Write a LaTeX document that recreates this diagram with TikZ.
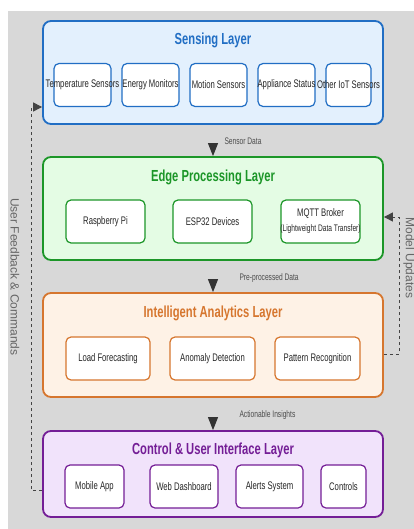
\documentclass[tikz,border=0pt]{standalone}
\usepackage{fontspec}
\setmainfont{Liberation Sans}[FakeStretch=0.7]
\newfontfamily\sidefont{Liberation Sans}
\usetikzlibrary{arrows.meta}

\definecolor{bgGray}{RGB}{216,216,216}
\definecolor{senseBlue}{RGB}{33,110,196}
\definecolor{senseFill}{RGB}{227,240,253}
\definecolor{edgeGreen}{RGB}{28,150,40}
\definecolor{edgeFill}{RGB}{228,252,228}
\definecolor{anaOrange}{RGB}{214,118,46}
\definecolor{anaFill}{RGB}{254,242,230}
\definecolor{ctrlPurple}{RGB}{116,30,150}
\definecolor{ctrlFill}{RGB}{241,227,251}
\definecolor{flowGray}{RGB}{68,68,68}

\tikzset{
  layerbox/.style 2 args={draw=#1, fill=#2, line width=1.8pt, rounded corners=8pt, minimum width=340pt},
  layertitle/.style={font=\fontsize{16}{18}\selectfont\bfseries, text=#1},
  unit/.style={draw=#1, fill=white, line width=1.2pt, rounded corners=5pt, minimum height=43pt,
    inner sep=0pt, font=\fontsize{11}{13}\selectfont, text=black!85},
  flow/.style={-{Triangle[length=13pt,width=10pt]}, black!80, line width=1pt, shorten <=20pt},
  flowlabel/.style={font=\fontsize{9.5}{11}\selectfont, text=black!70, anchor=west},
  backflow/.style={dash pattern=on 3pt off 3pt, flowGray, line width=1pt,
    -{Triangle[length=9pt,width=9pt]}},
  sidelabel/.style={font=\sidefont\fontsize{12}{14}\selectfont, text=black!60, rotate=-90},
}

\begin{document}
\begin{tikzpicture}[x=1pt, y=-1pt]
    \useasboundingbox (0,0) rectangle (414,529);
    \fill[bgGray] (8,11) rectangle (414,529);

    % sensing layer
    \node[layerbox={senseBlue}{senseFill}, minimum height=103pt] (sense) at (213,72.5) {};
    \node[layertitle=senseBlue] (senseT) at ([yshift=-20pt]sense.north) {Sensing Layer};
    \node[unit=senseBlue, minimum width=57pt] (temp) at (82.5,85) {\makebox[0pt]{Temperature Sensors}};
    \node[unit=senseBlue, minimum width=57pt] (energy) at (150.5,85) {\makebox[0pt]{Energy Monitors}};
    \node[unit=senseBlue, minimum width=57pt] (motion) at (218.5,85) {\makebox[0pt]{Motion Sensors}};
    \node[unit=senseBlue, minimum width=57pt] (appl) at (286.5,85) {\makebox[0pt]{Appliance Status}};
    \node[unit=senseBlue, minimum width=45pt] (other) at (348.5,85) {\makebox[0pt]{Other IoT Sensors}};

    % edge layer
    \node[layerbox={edgeGreen}{edgeFill}, minimum height=103pt] (edge) at (213,208.5) {};
    \node[layertitle=edgeGreen] (edgeT) at ([yshift=-21pt]edge.north) {Edge Processing Layer};
    \node[unit=edgeGreen, minimum width=79pt] (rpi) at (105.5,221.5) {Raspberry Pi};
    \node[unit=edgeGreen, minimum width=79pt] (esp) at (212.5,221.5) {ESP32 Devices};
    \node[unit=edgeGreen, minimum width=79pt] (mqtt) at (320.5,221.5) {\makebox[0pt]{\begin{tabular}{@{}c@{}}
        MQTT Broker\\[2pt]{\fontsize{9.5}{11}\selectfont(Lightweight Data Transfer)}\end{tabular}}};

    % analytics layer
    \node[layerbox={anaOrange}{anaFill}, minimum height=104pt] (ana) at (213,345) {};
    \node[layertitle=anaOrange] (anaT) at ([yshift=-21pt]ana.north) {Intelligent Analytics Layer};
    \node[unit=anaOrange, minimum width=84pt] (load) at (108,358.5) {Load Forecasting};
    \node[unit=anaOrange, minimum width=85pt] (anom) at (212.5,358.5) {Anomaly Detection};
    \node[unit=anaOrange, minimum width=85pt] (patt) at (317.5,358.5) {Pattern Recognition};

    % control layer
    \node[layerbox={ctrlPurple}{ctrlFill}, minimum height=86pt] (ctrl) at (213,474) {};
    \node[layertitle=ctrlPurple] (ctrlT) at ([yshift=-20pt]ctrl.north) {Control \& User Interface Layer};
    \node[unit=ctrlPurple, minimum width=59pt] (mobile) at (94.5,486.5) {Mobile App};
    \node[unit=ctrlPurple, minimum width=68pt] (web) at (184,486.5) {Web Dashboard};
    \node[unit=ctrlPurple, minimum width=67pt] (alerts) at (269.5,486.5) {Alerts System};
    \node[unit=ctrlPurple, minimum width=45pt] (controls) at (343.5,486.5) {Controls};

    % data flow downwards
    \draw[flow] (sense.south) -- (edge.north);
    \node[flowlabel] (sensorData) at (221,141) {Sensor Data};
    \draw[flow] (edge.south) -- (ana.north);
    \node[flowlabel] (preData) at (236,278) {Pre-processed Data};
    \draw[flow] (ana.south) -- (ctrl.north);
    \node[flowlabel] (insights) at (236,415) {Actionable Insights};

    % feedback loops
    \coordinate (fbLow) at (31,490);
    \coordinate (fbHigh) at (31,107);
    \draw[backflow] (ctrl.west |- fbLow) -- (fbLow) -- (fbHigh) -- (sense.west |- fbHigh);
    \node[sidelabel] (fbText) at (15,277) {User Feedback \& Commands};

    \coordinate (muLow) at (399,354);
    \coordinate (muHigh) at (399,217);
    \draw[backflow] (ana.east |- muLow) -- (muLow) -- (muHigh) -- (edge.east |- muHigh);
    \node[sidelabel] (muText) at (409,258) {Model Updates};
\end{tikzpicture}
\end{document}
